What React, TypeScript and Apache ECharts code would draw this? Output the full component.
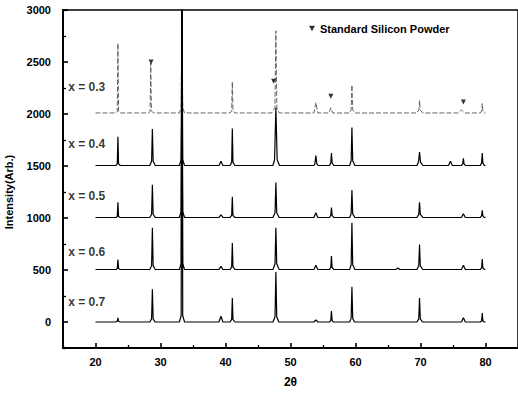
import React, { useEffect, useRef } from 'react';
import * as echarts from 'echarts';

// 2θ axis: labelled every 10 (20–80), minor ticks at the odd fives
const xMin = 15;
const xMax = 85;
const xMajor = 10;
const xLabelRange = [20, 80];
// intensity axis: labelled every 500 (0–3000), minor ticks at the odd 250s
const yMin = -250;
const yMax = 3000;
const yMajor = 500;
const yLabelRange = [0, 3000];

const seriesNames = ['x = 0.3', 'x = 0.4', 'x = 0.5', 'x = 0.6', 'x = 0.7'];
// where each composition label sits [2θ, intensity]
const labelPos = [
  [15.8, 2260],
  [15.8, 1716],
  [15.8, 1212],
  [15.8, 673],
  [15.8, 192],
];

// patterns: [2θ, intensity] (vertically offset as plotted)
const s03 = [
  [20, 2010], [23.15, 2010], [23.35, 2025], [23.45, 2680], [23.55, 2025], [23.8, 2010],
  [28.2, 2010], [28.4, 2030], [28.5, 2490], [28.6, 2030], [28.9, 2010],
  [32.9, 2010], [33.18, 2060], [33.3, 3100], [33.42, 2060], [33.7, 2010],
  [40.7, 2010], [40.95, 2030], [41.05, 2310], [41.15, 2030], [41.45, 2010],
  [47.1, 2010], [47.35, 2040], [47.6, 2060], [47.75, 2800], [47.9, 2050], [48.3, 2010],
  [53.6, 2010], [53.9, 2110], [54.2, 2010],
  [55.9, 2010], [56.2, 2060], [56.5, 2010],
  [59.1, 2010], [59.33, 2040], [59.45, 2280], [59.57, 2040], [59.9, 2010],
  [69.45, 2010], [69.75, 2040], [69.85, 2130], [69.95, 2040], [70.35, 2010],
  [75.8, 2010], [76.3, 2040], [76.8, 2010],
  [79.2, 2010], [79.4, 2030], [79.5, 2100], [79.6, 2030], [79.8, 2010], [80, 2010],
];
const s04 = [
  [20, 1505], [23.15, 1505], [23.35, 1520], [23.45, 1780], [23.55, 1520], [23.8, 1505],
  [28.35, 1505], [28.63, 1545], [28.75, 1855], [28.87, 1545], [29.2, 1505],
  [32.9, 1505], [33.18, 1560], [33.3, 3200], [33.42, 1560], [33.7, 1505],
  [39.0, 1505], [39.3, 1545], [39.6, 1505],
  [40.7, 1505], [40.95, 1535], [41.05, 1860], [41.15, 1535], [41.45, 1505],
  [47.3, 1505], [47.55, 1560], [47.75, 2060], [47.95, 1560], [48.3, 1505],
  [53.6, 1505], [53.75, 1520], [53.9, 1600], [54.05, 1520], [54.25, 1505],
  [56.0, 1505], [56.2, 1530], [56.3, 1625], [56.4, 1530], [56.65, 1505],
  [59.1, 1505], [59.33, 1550], [59.45, 1870], [59.57, 1550], [59.9, 1505],
  [69.45, 1505], [69.7, 1540], [69.85, 1635], [70.0, 1540], [70.35, 1505],
  [74.3, 1505], [74.6, 1545], [74.9, 1505],
  [76.3, 1505], [76.5, 1520], [76.6, 1575], [76.7, 1520], [76.9, 1505],
  [79.2, 1505], [79.4, 1530], [79.5, 1625], [79.6, 1530], [79.8, 1505], [80, 1505],
];
const s05 = [
  [20, 1005], [23.15, 1005], [23.35, 1015], [23.45, 1150], [23.55, 1015], [23.8, 1005],
  [28.35, 1005], [28.63, 1035], [28.75, 1320], [28.87, 1035], [29.2, 1005],
  [32.9, 1005], [33.18, 1060], [33.3, 2900], [33.42, 1060], [33.7, 1005],
  [39.0, 1005], [39.3, 1030], [39.6, 1005],
  [40.7, 1005], [40.95, 1025], [41.05, 1205], [41.15, 1025], [41.45, 1005],
  [47.3, 1005], [47.62, 1050], [47.75, 1340], [47.88, 1050], [48.25, 1005],
  [53.6, 1005], [53.9, 1050], [54.2, 1005],
  [56.0, 1005], [56.2, 1025], [56.3, 1100], [56.4, 1025], [56.65, 1005],
  [59.1, 1005], [59.33, 1040], [59.45, 1270], [59.57, 1040], [59.9, 1005],
  [69.45, 1005], [69.73, 1035], [69.85, 1150], [69.97, 1035], [70.35, 1005],
  [76.3, 1005], [76.6, 1040], [76.9, 1005],
  [79.2, 1005], [79.4, 1020], [79.5, 1075], [79.6, 1020], [79.8, 1005], [80, 1005],
];
const s06 = [
  [20, 505], [23.15, 505], [23.35, 515], [23.45, 600], [23.55, 515], [23.8, 505],
  [28.35, 505], [28.63, 540], [28.75, 905], [28.87, 540], [29.2, 505],
  [32.9, 505], [33.18, 560], [33.3, 3100], [33.42, 560], [33.7, 505],
  [39.0, 505], [39.3, 535], [39.6, 505],
  [40.7, 505], [40.95, 530], [41.05, 760], [41.15, 530], [41.45, 505],
  [47.3, 505], [47.62, 560], [47.75, 905], [47.88, 560], [48.25, 505],
  [53.6, 505], [53.9, 545], [54.2, 505],
  [56.0, 505], [56.2, 525], [56.3, 635], [56.4, 525], [56.65, 505],
  [59.1, 505], [59.33, 550], [59.45, 955], [59.57, 550], [59.9, 505],
  [66.2, 505], [66.5, 520], [66.8, 505],
  [69.45, 505], [69.73, 540], [69.85, 745], [69.97, 540], [70.35, 505],
  [76.3, 505], [76.6, 545], [76.9, 505],
  [79.2, 505], [79.4, 520], [79.5, 605], [79.6, 520], [79.8, 505], [80, 505],
];
const s07 = [
  [20, 0], [23.1, 0], [23.35, 8], [23.45, 40], [23.55, 8], [23.8, 0],
  [28.35, 0], [28.63, 30], [28.75, 315], [28.87, 30], [29.15, 0],
  [32.9, 0], [33.18, 60], [33.3, 3300], [33.42, 60], [33.7, 0],
  [39.0, 0], [39.3, 55], [39.6, 0],
  [40.7, 0], [40.95, 25], [41.05, 230], [41.15, 25], [41.45, 0],
  [47.3, 0], [47.62, 50], [47.75, 480], [47.88, 50], [48.2, 0],
  [53.6, 0], [53.9, 20], [54.2, 0],
  [56.0, 0], [56.2, 15], [56.3, 105], [56.4, 15], [56.6, 0],
  [59.1, 0], [59.33, 35], [59.45, 340], [59.57, 35], [59.85, 0],
  [69.45, 0], [69.73, 30], [69.85, 230], [69.97, 30], [70.3, 0],
  [76.3, 0], [76.6, 40], [76.9, 0],
  [79.2, 0], [79.4, 10], [79.5, 85], [79.6, 10], [79.8, 0], [80, 0],
];
const patterns = [s03, s04, s05, s06, s07];

// Standard silicon powder reflections marked on the x = 0.3 pattern
const siName = 'Standard Silicon Powder';
const siMarks = [
  [28.55, 2500],
  [47.4, 2315],
  [56.2, 2170],
  [76.6, 2115],
];

const FONT = '"Liberation Sans", Arial, sans-serif';
const txt = { fontFamily: FONT, fontSize: 11, fontWeight: 'bold' as const, color: '#000' };

const labelIf = (step: number, range: number[]) => (v: number) =>
  Math.abs(v % step) < 1e-6 && v >= range[0] - 1e-6 && v <= range[1] + 1e-6 ? String(Math.round(v)) : '';

export default function App() {
  const ref = useRef<HTMLDivElement>(null);
  useEffect(() => {
    if (!ref.current) return;
    const chart = echarts.init(ref.current, null, { renderer: 'svg' });
    const lineSeries = patterns.map((d, i) => ({
      type: 'line',
      name: seriesNames[i],
      data: d,
      showSymbol: false,
      symbol: 'none',
      clip: true,
      lineStyle: i === 0
        ? { color: '#555', width: 0.9, type: [5, 2] }
        : { color: '#000', width: 1.2 },
      z: 3,
    }));
    const majorTick = { show: true, inside: true, length: 5, lineStyle: { color: '#000', width: 1.6 } };
    const minorTick = { show: true, inside: true, length: 3, lineStyle: { color: '#000', width: 1.3 } };
    chart.setOption({
      animation: false,
      backgroundColor: '#fff',
      grid: {
        left: 63, right: -2, top: 10, bottom: 45,
        show: true, borderColor: '#000', borderWidth: 1.5,
      },
      legend: {
        data: [siName],
        left: 304, top: 18,
        itemWidth: 6, itemHeight: 6,
        textStyle: { ...txt },
      },
      xAxis: [
        {
          // axis line, labels and major ticks (nice ticks at multiples of 10)
          type: 'value', min: xMin, max: xMax, minInterval: xMajor, maxInterval: xMajor, position: 'bottom',
          axisLine: { show: true, onZero: false, lineStyle: { color: '#000', width: 2 } },
          axisTick: majorTick,
          axisLabel: { margin: 8, formatter: labelIf(xMajor, xLabelRange), showMinLabel: false, showMaxLabel: false, ...txt },
          splitLine: { show: false },
          name: '2θ', nameLocation: 'middle', nameGap: 28,
          nameTextStyle: { ...txt, fontSize: 12 },
          z: 10,
        },
        {
          // minor ticks, counted from min = 15 every 10 → 25, 35, …
          type: 'value', min: xMin, max: xMax, interval: xMajor, position: 'bottom',
          axisLine: { show: false, onZero: false },
          axisTick: minorTick,
          axisLabel: { show: false },
          splitLine: { show: false },
          z: 10,
        },
      ],
      yAxis: [
        {
          type: 'value', min: yMin, max: yMax, minInterval: yMajor, maxInterval: yMajor, position: 'left',
          axisLine: { show: true, onZero: false, lineStyle: { color: '#000', width: 2 } },
          axisTick: majorTick,
          axisLabel: { margin: 12, formatter: labelIf(yMajor, yLabelRange), ...txt },
          splitLine: { show: false },
          z: 10,
        },
        {
          // minor ticks, counted from min = -250 every 500 → 250, 750, …
          type: 'value', min: yMin, max: yMax, interval: yMajor, position: 'left',
          axisLine: { show: false, onZero: false },
          axisTick: minorTick,
          axisLabel: { show: false },
          splitLine: { show: false },
          z: 10,
        },
      ],
      graphic: [
        {
          type: 'text', x: 9, y: 192, rotation: Math.PI / 2,
          style: {
            text: 'Intensity(Arb.)', fill: '#000', align: 'center', verticalAlign: 'middle',
            font: `bold 11px ${FONT}`,
          },
        },
      ],
      series: [
        ...lineSeries,
        {
          type: 'scatter',
          name: siName,
          data: siMarks,
          symbol: 'path://M0,0L10,0L5,9Z',
          symbolSize: [5, 5],
          itemStyle: { color: '#000' },
          z: 5,
        },
        {
          type: 'scatter',
          name: 'labels',
          data: labelPos.map((p, i) => ({ value: p, name: seriesNames[i] })),
          symbolSize: 0,
          silent: true,
          label: { show: true, position: 'right', distance: 0, formatter: '{b}', ...txt, fontSize: 12 },
          z: 6,
        },
      ],
    });
    return () => chart.dispose();
  }, []);
  return <div ref={ref} style={{ position: 'fixed', left: 0, top: 0, width: 518, height: 393 }} />;
}
